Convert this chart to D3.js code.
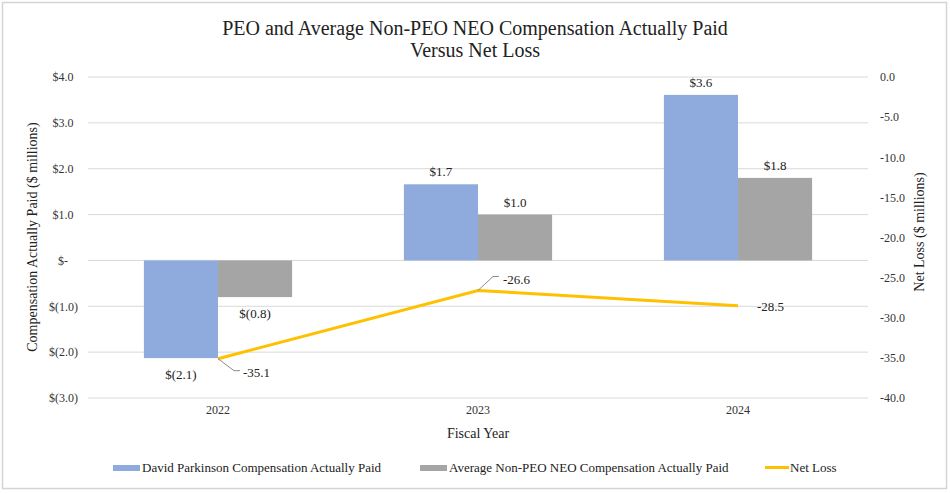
<!DOCTYPE html>
<html><head><meta charset="utf-8">
<script src="https://cdn.jsdelivr.net/npm/d3@7"></script>
<style>body{margin:0;background:#fff}svg{display:block}</style>
</head><body><svg id="c" width="950" height="494"></svg>
<script>
const years = ["2022","2023","2024"];
const peoValues = [-2.13, 1.66, 3.61];
const peoLabels = ["$(2.1)","$1.7","$3.6"];
const neoValues = [-0.8, 1.0, 1.8];
const neoLabels = ["$(0.8)","$1.0","$1.8"];
const netLoss = [-35.1, -26.6, -28.5];
const leftTicks = [4,3,2,1,0,-1,-2,-3];
const leftTickLabels = ["$4.0","$3.0","$2.0","$1.0","$-","$(1.0)","$(2.0)","$(3.0)"];
const rightTicks = [0,-5,-10,-15,-20,-25,-30,-35,-40];
const seriesNames = ["David Parkinson Compensation Actually Paid","Average Non-PEO NEO Compensation Actually Paid","Net Loss"];

const FONT = "'Liberation Serif', 'Times New Roman', Times, 'DejaVu Serif', serif";
const svg = d3.select("#c");
svg.append("rect").attr("x",2.5).attr("y",2.5).attr("width",944).attr("height",486).attr("fill","none").attr("stroke","#d4d4d4").attr("stroke-width",1.5);

const L=88, R=868, T=77, B=398;
const x = d3.scaleBand().domain(years).range([L,R]).paddingInner(0.43).paddingOuter(0.215);
const yL = d3.scaleLinear().domain([-3,4]).range([B,T]);
const yR = d3.scaleLinear().domain([-40,0]).range([B,T]);

svg.append("g").selectAll("line").data(leftTicks).join("line")
  .attr("x1",L).attr("x2",R).attr("y1",d=>yL(d)).attr("y2",d=>yL(d))
  .attr("stroke","#d9d9d9").attr("stroke-width",1);

const axL = d3.axisLeft(yL).tickValues(leftTicks).tickFormat((d,i)=>leftTickLabels[i]).tickSize(0).tickPadding(0);
const gL = svg.append("g").attr("transform",`translate(78,0)`).call(axL);
gL.select(".domain").remove();
gL.selectAll("text").attr("font-size",12).attr("fill","#333")
  .attr("x",d=> d>0 ? -4.5 : (d===0 ? -10 : 0));

const axR = d3.axisRight(yR).tickValues(rightTicks).tickFormat(d=>d3.format(".1f")(d).replace("−","-")).tickSize(0).tickPadding(0);
const gR = svg.append("g").attr("transform",`translate(880,0)`).call(axR);
gR.select(".domain").remove();
gR.selectAll("text").attr("font-size",12).attr("fill","#333");

const axB = d3.axisBottom(x).tickSize(0).tickPadding(0);
const gB = svg.append("g").attr("transform",`translate(0,${B+7})`).call(axB);
gB.select(".domain").remove();
gB.selectAll("text").attr("font-size",12).attr("fill","#333");

const sub = d3.scaleBand().domain([0,1]).range([0,x.bandwidth()]);
const bw = sub.bandwidth();
const g = svg.append("g");
g.selectAll(".peo").data(years).join("rect")
  .attr("x",d=>x(d)).attr("width",bw)
  .attr("y",(d,i)=>yL(Math.max(0,peoValues[i]))).attr("height",(d,i)=>Math.abs(yL(peoValues[i])-yL(0)))
  .attr("fill","#8faadc");
g.selectAll(".neo").data(years).join("rect")
  .attr("x",d=>x(d)+sub(1)).attr("width",bw)
  .attr("y",(d,i)=>yL(Math.max(0,neoValues[i]))).attr("height",(d,i)=>Math.abs(yL(neoValues[i])-yL(0)))
  .attr("fill","#a5a5a5");

function barLabel(vals, labs, off){
  svg.append("g").selectAll("text").data(years).join("text")
    .attr("x",d=>x(d)+off+bw/2)
    .attr("y",(d,i)=>vals[i]>=0 ? yL(vals[i])-8 : yL(vals[i])+21)
    .attr("text-anchor","middle").attr("font-size",13).text((d,i)=>labs[i]);
}
barLabel(peoValues,peoLabels,0);
barLabel(neoValues,neoLabels,bw);

const cx = d=>x(d)+x.bandwidth()/2;
svg.append("path").datum(years)
  .attr("d",d3.line().x(d=>cx(d)).y((d,i)=>yR(netLoss[i])))
  .attr("fill","none").attr("stroke","#ffc000").attr("stroke-width",3);

const lineLab = [
  {dx:16,dy:12,tx:25,ty:18,leader:true},
  {dx:15,dy:-14,tx:25,ty:-6,leader:true},
  {dx:0,dy:0,tx:19,ty:5,leader:false}
];
years.forEach((yr,i)=>{
  const px=cx(yr), py=yR(netLoss[i]), o=lineLab[i];
  if(o.leader){
    svg.append("polyline").attr("points",`${px},${py} ${px+o.dx},${py+o.dy} ${px+o.dx+6},${py+o.dy}`)
      .attr("fill","none").attr("stroke","#8c8c8c").attr("stroke-width",1);
  }
  svg.append("text").attr("x",px+o.tx).attr("y",py+o.ty).attr("font-size",13).text(d3.format(".1f")(netLoss[i]).replace("−","-"));
});

svg.append("text").attr("x",475).attr("y",35).attr("text-anchor","middle").attr("font-size",20).text("PEO and Average  Non-PEO NEO Compensation  Actually  Paid");
svg.append("text").attr("x",475).attr("y",57).attr("text-anchor","middle").attr("font-size",20).text("Versus Net Loss");
svg.append("text").attr("transform","translate(37,237) rotate(-90)").attr("text-anchor","middle").attr("font-size",14).text("Compensation Actually Paid ($ millions)");
svg.append("text").attr("transform","translate(924,232) rotate(-90)").attr("text-anchor","middle").attr("font-size",14).text("Net Loss ($ millions)");
svg.append("text").attr("x",478).attr("y",438).attr("text-anchor","middle").attr("font-size",14).text("Fiscal Year");

const leg = [{x:113,w:27,c:"#8faadc",t:"rect",tx:142},{x:420,w:27,c:"#a5a5a5",t:"rect",tx:449},{x:765,w:24,c:"#ffc000",t:"line",tx:790}];
leg.forEach((l,i)=>{
  if(l.t==="rect") svg.append("rect").attr("x",l.x).attr("y",465).attr("width",l.w).attr("height",6).attr("fill",l.c);
  else svg.append("rect").attr("x",l.x).attr("y",466).attr("width",l.w).attr("height",3).attr("fill",l.c);
  svg.append("text").attr("x",l.tx).attr("y",472).attr("font-size",13).text(seriesNames[i]);
});

svg.selectAll("text").style("font-family",FONT).style("fill",function(){return d3.select(this).attr("fill")||"#222";});
</script></body></html>
